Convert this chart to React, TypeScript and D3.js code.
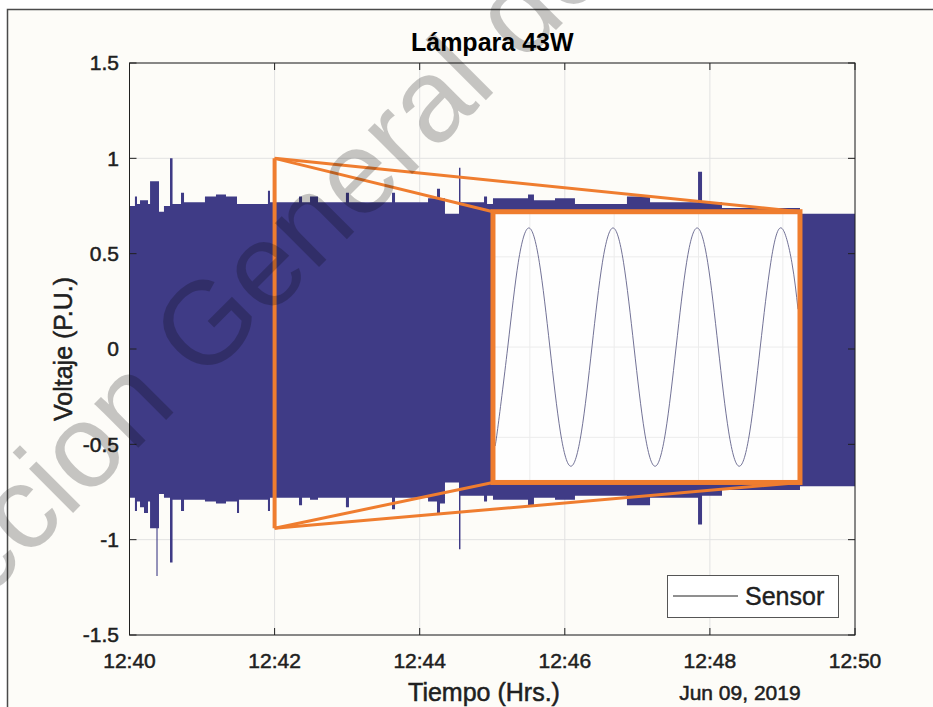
import React from "react";
import * as d3 from "d3";

// ---------- data ----------
const chartTitle = "Lámpara 43W";
const yLabel = "Voltaje (P.U.)";
const xLabel = "Tiempo (Hrs.)";
const dateLabel = "Jun 09, 2019";
const legendLabel = "Sensor";
const watermarkText = "Direccion General de Bibliotecas";

const startTime = new Date(2019, 5, 9, 12, 40, 0);
const endTime = new Date(2019, 5, 9, 12, 50, 0);

// envelope of the 60 Hz signal: seconds after 12:40:00, upper / lower peak (P.U.)
const envSeconds = [0, 4.5, 6.2, 8.7, 12.0, 15.3, 17.0, 22.3, 23.2, 24.4, 28.5, 33.5, 35.6, 42.6, 45.1, 62.4, 71.5, 79.8, 88.9, 90.6, 114.5, 116.2, 140.2, 142.7, 149.3, 155.9, 179, 181.5, 217.1, 219.6, 246.9, 254.3, 256.8, 260.9, 272.5, 273.7, 293.2, 295.7, 300.6, 329.6, 334.5, 351.9, 368.4, 411.4, 430.5, 470.2, 473.5, 490, 554.5, 600];
const envUpper = [0.75, 0.80, 0.76, 0.78, 0.78, 0.76, 0.88, 0.88, 0.88, 0.72, 0.75, 1.00, 0.76, 0.82, 0.77, 0.80, 0.81, 0.80, 0.76, 0.76, 0.83, 0.77, 0.80, 0.77, 0.80, 0.77, 0.82, 0.77, 0.82, 0.77, 0.79, 0.84, 0.79, 0.71, 0.95, 0.77, 0.80, 0.76, 0.79, 0.81, 0.78, 0.79, 0.76, 0.80, 0.77, 0.93, 0.77, 0.74, 0.71, 0.71];
const envLower = [-0.78, -0.85, -0.80, -0.83, -0.86, -0.80, -0.94, -1.19, -0.94, -0.76, -0.78, -1.12, -0.79, -0.85, -0.79, -0.80, -0.81, -0.80, -0.86, -0.79, -0.85, -0.78, -0.82, -0.78, -0.79, -0.78, -0.83, -0.78, -0.84, -0.78, -0.80, -0.86, -0.81, -0.70, -1.05, -0.77, -0.80, -0.77, -0.79, -0.82, -0.78, -0.79, -0.77, -0.82, -0.78, -0.92, -0.77, -0.74, -0.72, -0.72];

const yTickValues = [-1.5, -1, -0.5, 0, 0.5, 1, 1.5];
const yTickLabels = ["-1.5", "-1", "-0.5", "0", "0.5", "1", "1.5"];
const xTickLabels = ["12:40", "12:42", "12:44", "12:46", "12:48", "12:50"];

// zoomed waveform (inset): milliseconds, voltage
const insetMs = [0, 0.45, 2.53, 4.62, 6.70, 8.78, 10.87, 12.95, 15.03, 17.12, 19.20, 21.28, 23.37, 25.45, 27.53, 29.62, 31.70, 33.78, 35.87, 37.95, 40.03, 42.12, 44.20, 46.28, 48.37, 50.45, 52.53, 54.62, 56.70, 58.78, 60];
const insetVolt = [-0.54, -0.47, 0, 0.47, 0.66, 0.47, 0, -0.47, -0.66, -0.47, 0, 0.47, 0.66, 0.47, 0, -0.47, -0.66, -0.47, 0, 0.47, 0.66, 0.47, 0, -0.47, -0.66, -0.47, 0, 0.47, 0.66, 0.47, 0.21];
const insetGridMs = [6.9, 23.6, 40.3, 57.0];
const insetGridVolt = [-0.5, 0, 0.5];

// zoom marker (seconds after 12:40, P.U.) and inset placement in main-axes data units
const zoomMarkSec = 120;
const zoomMarkHi = 1.0;
const zoomMarkLo = -0.94;
const insetSec = [300.6, 554.5];
const insetHiLo = [0.72, -0.70];

// ---------- layout ----------
const W = 933;
const H = 707;
const left = 129.5;
const right = 855;
const top = 63;
const bottom = 635;
const FONT = "'Liberation Sans', Arial, Helvetica, sans-serif";
const BLUE = "#3f3b86";
const ORANGE = "#ef7d2f";
const TXT = "#202020";
const BG = "#fdfcf8";
const GRID = "#e2e2e2";

export default function App() {
  const x = d3.scaleTime().domain([startTime, endTime]).range([left, right]);
  const y = d3.scaleLinear().domain([-1.5, 1.5]).range([bottom, top]);
  const secToDate = (s: number) => new Date(startTime.getTime() + s * 1000);

  const env = envSeconds.map((s, i) => ({ t: secToDate(s), hi: envUpper[i], lo: envLower[i] }));
  const area = d3
    .area<{ t: Date; hi: number; lo: number }>()
    .x((d) => x(d.t))
    .y0((d) => y(d.lo))
    .y1((d) => y(d.hi))
    .curve(d3.curveStepAfter);

  const xTicks = x.ticks(d3.timeMinute.every(2) as any);

  // inset geometry
  const ix0 = x(secToDate(insetSec[0]));
  const ix1 = x(secToDate(insetSec[1]));
  const iy0 = y(insetHiLo[0]);
  const iy1 = y(insetHiLo[1]);
  const insetX = d3.scaleLinear().domain([0, 60]).range([ix0 + 2, ix1 - 2]);
  const insetY = d3.scaleLinear().domain([-0.75, 0.75]).range([iy1, iy0]);
  const sine = d3
    .line<number>()
    .x((_, i) => insetX(insetMs[i]))
    .y((d) => insetY(d))
    .curve(d3.curveNatural);

  const zx = x(secToDate(zoomMarkSec));
  const zyHi = y(zoomMarkHi);
  const zyLo = y(zoomMarkLo);

  // watermark placement
  const ang = -45;
  const rad = (ang * Math.PI) / 180;
  const gx = 202;
  const gy = 384;
  const fs = 118;
  const pre = 4.445 * fs; // width of "Direccion " in Arial metrics
  const wx = gx - Math.cos(rad) * pre;
  const wy = gy - Math.sin(rad) * pre;

  const txtStroke = { stroke: TXT, strokeWidth: 0.5 } as any;

  return (
    <div style={{ position: "absolute", left: 0, top: 0, width: W, height: H, overflow: "hidden" }}>
      <svg width={W} height={H} style={{ display: "block" }}>
        <rect x={0} y={0} width={W} height={H} fill="#ffffff" />
        <rect x={7.5} y={9.5} width={W + 20} height={H + 20} fill={BG} stroke="#4a4a4a" strokeWidth={1.5} />

        {/* plot background */}
        <rect x={left} y={top} width={right - left} height={bottom - top} fill={BG} />

        {/* grid */}
        {xTicks.map((t, i) => (
          <line key={"gx" + i} x1={x(t)} x2={x(t)} y1={top} y2={bottom} stroke={GRID} strokeWidth={1} />
        ))}
        {yTickValues.map((v, i) => (
          <line key={"gy" + i} x1={left} x2={right} y1={y(v)} y2={y(v)} stroke={GRID} strokeWidth={1} />
        ))}

        {/* envelope */}
        <path d={area(env) || ""} fill={BLUE} stroke="none" />

        {/* zoom connectors */}
        <g stroke={ORANGE} fill="none" strokeLinejoin="round">
          <line x1={zx} y1={zyHi} x2={ix0} y2={iy0} strokeWidth={3} />
          <line x1={zx} y1={zyHi} x2={ix1} y2={iy0} strokeWidth={3} />
          <line x1={zx} y1={zyLo} x2={ix0} y2={iy1} strokeWidth={3} />
          <line x1={zx} y1={zyLo} x2={ix1} y2={iy1} strokeWidth={3} />
          <line x1={zx} y1={zyHi} x2={zx} y2={zyLo} strokeWidth={4} />
        </g>

        {/* inset */}
        <rect x={ix0} y={iy0} width={ix1 - ix0} height={iy1 - iy0} fill="#fefefe" />
        {insetGridMs.map((m, i) => (
          <line key={"igx" + i} x1={insetX(m)} x2={insetX(m)} y1={iy0} y2={iy1} stroke="#ececec" strokeWidth={1} />
        ))}
        {insetGridVolt.map((v, i) => (
          <line key={"igy" + i} x1={ix0} x2={ix1} y1={insetY(v)} y2={insetY(v)} stroke="#ececec" strokeWidth={1} />
        ))}
        <path d={sine(insetVolt) || ""} fill="none" stroke="#62628a" strokeWidth={0.9} />
        <rect x={ix0} y={iy0} width={ix1 - ix0} height={iy1 - iy0} fill="none" stroke={ORANGE} strokeWidth={5} />

        {/* axes box */}
        <rect x={left} y={top} width={right - left} height={bottom - top} fill="none" stroke={TXT} strokeWidth={1} />
        {xTicks.map((t, i) => (
          <g key={"xt" + i}>
            <line x1={x(t)} x2={x(t)} y1={bottom} y2={bottom - 7} stroke={TXT} />
            <line x1={x(t)} x2={x(t)} y1={top} y2={top + 7} stroke={TXT} />
            <text x={x(t)} y={668} textAnchor="middle" fontFamily={FONT} fontSize={21} fill={TXT} {...txtStroke}>
              {xTickLabels[i] ?? d3.timeFormat("%H:%M")(t)}
            </text>
          </g>
        ))}
        {yTickValues.map((v, i) => (
          <g key={"yt" + i}>
            <line x1={left} x2={left + 7} y1={y(v)} y2={y(v)} stroke={TXT} />
            <line x1={right} x2={right - 7} y1={y(v)} y2={y(v)} stroke={TXT} />
            <text x={119} y={y(v)} dy="0.35em" textAnchor="end" fontFamily={FONT} fontSize={21} fill={TXT} {...txtStroke}>
              {yTickLabels[i]}
            </text>
          </g>
        ))}

        {/* legend */}
        <rect x={667.5} y={575.5} width={171} height={42} fill="#ffffff" stroke="#555" strokeWidth={1} />
        <line x1={673} x2={738} y1={596} y2={596} stroke={TXT} strokeWidth={1} />
        <text x={745} y={605} fontFamily={FONT} fontSize={25} fill={TXT} stroke={TXT} strokeWidth={0.4}>
          {legendLabel}
        </text>

        {/* titles */}
        <text x={(left + right) / 2} y={51} textAnchor="middle" fontFamily={FONT} fontSize={25} fontWeight="bold" fill="#000">
          {chartTitle}
        </text>
        <text x={484} y={701} textAnchor="middle" fontFamily={FONT} fontSize={25} fill={TXT} {...txtStroke}>
          {xLabel}
        </text>
        <text x={x(d3.timeMinute.offset(startTime, 8)) + 30} y={700} textAnchor="middle" fontFamily={FONT} fontSize={21} fill={TXT} {...txtStroke}>
          {dateLabel}
        </text>
        <text
          transform={`translate(72, ${(top + bottom) / 2}) rotate(-90)`}
          textAnchor="middle"
          fontFamily={FONT}
          fontSize={25}
          fill={TXT}
          {...txtStroke}
        >
          {yLabel}
        </text>

        {/* watermark */}
        <text
          transform={`translate(${wx}, ${wy}) rotate(${ang})`}
          fontFamily={FONT}
          fontSize={fs}
          fill="#000"
          fillOpacity={0.22}
        >
          {watermarkText}
        </text>
      </svg>
    </div>
  );
}
